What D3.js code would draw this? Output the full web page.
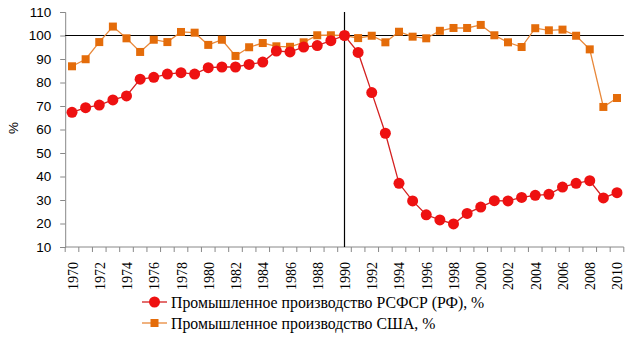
<!DOCTYPE html>
<html><head><meta charset="utf-8">
<script src="https://cdn.jsdelivr.net/npm/d3@7"></script>
<style>body{margin:0;background:#fff}svg{display:block}</style>
</head><body>
<script>
const years = d3.range(1970, 2011);
const rsfsr = [67.3,69.3,70.4,72.6,74.3,81.4,82.2,83.6,84.2,83.6,86.3,86.6,86.6,87.7,88.7,93.4,93.0,95.1,95.7,97.8,100,92.8,75.7,58.4,37.1,29.6,23.7,21.5,19.8,24.3,27.0,29.7,29.6,31.1,32.0,32.4,35.5,37.1,38.2,30.9,33.1];
const usa = [86.9,89.9,97.2,103.8,98.8,93.0,98.2,97.2,101.5,101.2,96.0,98.2,91.3,95.0,96.8,95.4,95.2,97.1,100.1,100.1,100,98.9,99.9,97.1,101.6,99.5,98.8,102.0,103.2,103.2,104.5,100.1,97.1,95.1,103.1,102.2,102.5,99.9,94.1,69.6,73.4];
const yTicks = [10,20,30,40,50,60,70,80,90,100,110];
const seriesNames = ["Промышленное производство РСФСР (РФ), %","Промышленное производство США, %"];
const yLabel = "%";

const W=637,H=341;
const svg=d3.select("body").append("svg").attr("width",W).attr("height",H);
const x=d3.scaleBand().domain(years).range([65.2,623.8]);
const y=d3.scaleLinear().domain([10,110]).range([247,12]);
const cx=d=>x(d)+x.bandwidth()/2;
const sans="'Liberation Sans', Arial, sans-serif";
const serif="'Liberation Serif', 'Times New Roman', serif";

// y axis
const ya=svg.append("g").attr("transform","translate(65.2,0)")
  .call(d3.axisLeft(y).tickValues(yTicks).tickSize(5).tickPadding(9));
ya.select(".domain").attr("stroke","#888");
ya.selectAll(".tick line").attr("stroke","#888");
ya.selectAll("text").attr("font-family",sans).attr("font-size",13.5).attr("fill","#000");

// x axis
const xa=svg.append("g").attr("transform","translate(0,247)");
xa.append("line").attr("x1",65.2).attr("x2",623.8).attr("y1",0).attr("y2",0).attr("stroke","#888");
const bounds=years.map(d=>x(d)).concat([x(2010)+x.bandwidth()]);
xa.selectAll("line.tk").data(bounds).enter().append("line").attr("class","tk")
  .attr("x1",d=>d).attr("x2",d=>d).attr("y1",0).attr("y2",5).attr("stroke","#888");
xa.selectAll("text").data(years.filter(d=>d%2===0)).enter().append("text")
  .attr("transform",d=>`translate(${cx(d)+5.5},${15}) rotate(-90)`)
  .attr("text-anchor","end").attr("font-family",serif)
  .attr("font-size",14).attr("fill","#000").text(d=>d);

// reference lines
svg.append("line").attr("x1",65.2).attr("x2",623.8).attr("y1",y(100)).attr("y2",y(100)).attr("stroke","#000").attr("stroke-width",1.2);
svg.append("line").attr("x1",cx(1990)).attr("x2",cx(1990)).attr("y1",12).attr("y2",247).attr("stroke","#000").attr("stroke-width",1.2);

// y label
svg.append("text").attr("transform","translate(18,128) rotate(-90)").attr("text-anchor","middle")
  .attr("font-family",sans).attr("font-size",13.5).text(yLabel);

const redC="#ee1111", redL="#d42020", orC="#e46c0a", orL="#e8883a";
// USA
svg.append("path").datum(usa).attr("fill","none").attr("stroke",orL).attr("stroke-width",1.3)
  .attr("d",d3.line().x((d,i)=>cx(years[i])).y(d=>y(d)));
svg.selectAll("rect.us").data(usa).enter().append("rect").attr("class","us")
  .attr("x",(d,i)=>cx(years[i])-4).attr("y",d=>y(d)-4).attr("width",8).attr("height",8).attr("fill",orC);
// RSFSR
svg.append("path").datum(rsfsr).attr("fill","none").attr("stroke",redL).attr("stroke-width",1.3)
  .attr("d",d3.line().x((d,i)=>cx(years[i])).y(d=>y(d)));
svg.selectAll("circle.ru").data(rsfsr).enter().append("circle").attr("class","ru")
  .attr("cx",(d,i)=>cx(years[i])).attr("cy",d=>y(d)).attr("r",5.5).attr("fill",redC);

// legend
const lg=svg.append("g");
[[0,302,redL,"c"],[1,323,orL,"s"]].forEach(([i,yy,lc,m])=>{
  lg.append("line").attr("x1",142).attr("x2",167).attr("y1",yy).attr("y2",yy).attr("stroke",lc).attr("stroke-width",1.3);
  if(m==="c") lg.append("circle").attr("cx",154.5).attr("cy",yy).attr("r",5.5).attr("fill",redC);
  else lg.append("rect").attr("x",150.5).attr("y",yy-4).attr("width",8).attr("height",8).attr("fill",orC);
  lg.append("text").attr("x",171).attr("y",yy+5.5).attr("font-family",serif)
    .attr("font-size",15.8).attr("fill","#000").text(seriesNames[i]);
});
</script>
</body></html>
